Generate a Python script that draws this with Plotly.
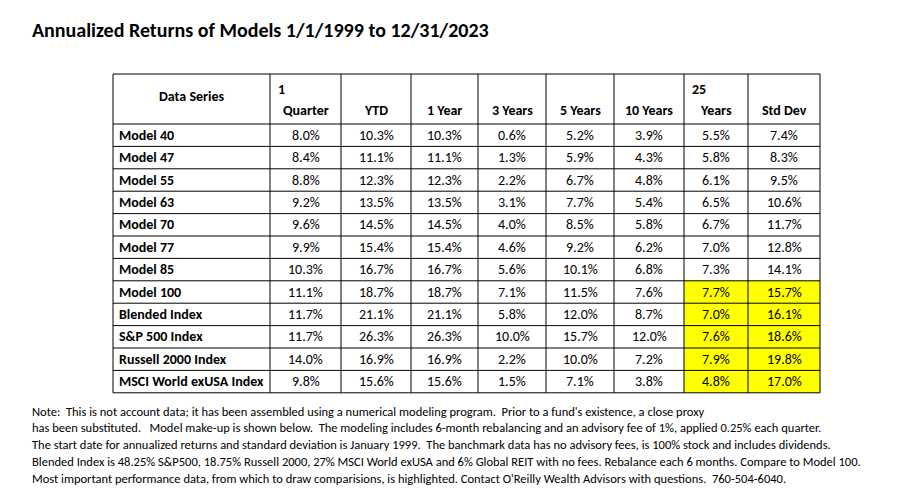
import plotly.graph_objects as go

series = ["Model 40","Model 47","Model 55","Model 63","Model 70","Model 77","Model 85","Model 100",
          "Blended Index","S&P 500 Index","Russell 2000 Index","MSCI World exUSA Index"]
q1   = ["8.0%","8.4%","8.8%","9.2%","9.6%","9.9%","10.3%","11.1%","11.7%","11.7%","14.0%","9.8%"]
ytd  = ["10.3%","11.1%","12.3%","13.5%","14.5%","15.4%","16.7%","18.7%","21.1%","26.3%","16.9%","15.6%"]
y1   = ["10.3%","11.1%","12.3%","13.5%","14.5%","15.4%","16.7%","18.7%","21.1%","26.3%","16.9%","15.6%"]
y3   = ["0.6%","1.3%","2.2%","3.1%","4.0%","4.6%","5.6%","7.1%","5.8%","10.0%","2.2%","1.5%"]
y5   = ["5.2%","5.9%","6.7%","7.7%","8.5%","9.2%","10.1%","11.5%","12.0%","15.7%","10.0%","7.1%"]
y10  = ["3.9%","4.3%","4.8%","5.4%","5.8%","6.2%","6.8%","7.6%","8.7%","12.0%","7.2%","3.8%"]
y25  = ["5.5%","5.8%","6.1%","6.5%","6.7%","7.0%","7.3%","7.7%","7.0%","7.6%","7.9%","4.8%"]
sd   = ["7.4%","8.3%","9.5%","10.6%","11.7%","12.8%","14.1%","15.7%","16.1%","18.6%","19.8%","17.0%"]
header_top = ["", "1", "", "", "", "", "", "25", ""]
header_bot = ["Data Series", "Quarter", "YTD", "1 Year", "3 Years", "5 Years", "10 Years", "Years", "Std Dev"]
highlight_from = 7
highlight_cols = [7, 8]

font = "Carlito, Calibri, Lato, sans-serif"
W, H = 922, 492
edges = [105, 262, 333, 403, 470, 538, 606, 676, 740, 812]
top, head_h, row_h = 66, 50, 22.4
columns = [series, q1, ytd, y1, y3, y5, y10, y25, sd]
n = len(series)

fig = go.Figure()
fig.update_xaxes(range=[0, W], visible=False, fixedrange=True)
fig.update_yaxes(range=[H, 0], visible=False, fixedrange=True)

def px(x, y):
    return x, y

# highlight fills
for c in highlight_cols:
    for r in range(highlight_from, n):
        y0 = top + head_h + r*row_h
        fig.add_shape(type="rect", x0=edges[c], x1=edges[c+1], y0=y0, y1=y0+row_h,
                      fillcolor="#FFFF00", line=dict(width=0), layer="below")

bottom = top + head_h + n*row_h
for x in edges:
    fig.add_shape(type="line", x0=x, x1=x, y0=top, y1=bottom, line=dict(color="black", width=1))
for y in [top] + [top + head_h + r*row_h for r in range(n+1)]:
    fig.add_shape(type="line", x0=edges[0], x1=edges[-1], y0=y, y1=y, line=dict(color="black", width=1))

# header
for c in range(9):
    cx = (edges[c] + edges[c+1]) / 2
    if c == 0:
        fig.add_annotation(x=cx, y=88, text="<b>Data Series</b>", showarrow=False,
                           font=dict(family=font, size=14, color="black"))
        continue
    fig.add_annotation(x=cx, y=102, text="<b>%s</b>" % header_bot[c], showarrow=False,
                       font=dict(family=font, size=14, color="black"))
    if header_top[c]:
        fig.add_annotation(x=edges[c] + 6, y=81, text="<b>%s</b>" % header_top[c], showarrow=False,
                           xanchor="left", font=dict(family=font, size=14, color="black"))

for c in range(9):
    for r in range(n):
        yc = top + head_h + (r + 0.5)*row_h
        if c == 0:
            fig.add_annotation(x=edges[0] + 4, y=yc, text="<b>%s</b>" % columns[0][r], showarrow=False,
                               xanchor="left", font=dict(family=font, size=14, color="black"))
        else:
            fig.add_annotation(x=(edges[c] + edges[c+1]) / 2, y=yc, text=columns[c][r], showarrow=False,
                               font=dict(family=font, size=14, color="black"))

notes = ["Note:  This is not account data; it has been assembled using a numerical modeling program.  Prior to a fund's existence, a close proxy",
         "has been substituted.   Model make-up is shown below.  The modeling includes 6-month rebalancing and an advisory fee of 1%, applied 0.25% each quarter.",
         "The start date for annualized returns and standard deviation is January 1999.  The banchmark data has no advisory fees, is 100% stock and includes dividends.",
         "Blended Index is 48.25% S&P500, 18.75% Russell 2000, 27% MSCI World exUSA and 6% Global REIT with no fees. Rebalance each 6 months. Compare to Model 100.",
         "Most important performance data, from which to draw comparisions, is highlighted. Contact O'Reilly Wealth Advisors with questions.  760-504-6040."]
for i, t in enumerate(notes):
    fig.add_annotation(text=t, x=22, y=403 + i*16.8, xanchor="left", showarrow=False,
                       font=dict(family=font, size=12.5, color="black"))

fig.add_annotation(text="<b>Annualized Returns of Models 1/1/1999 to 12/31/2023</b>", x=22, y=22,
                   xanchor="left", showarrow=False, font=dict(family=font, size=20, color="black"))

fig.update_layout(width=W, height=H, margin=dict(l=0, r=0, t=0, b=0),
                  paper_bgcolor="white", plot_bgcolor="white", showlegend=False)
fig.write_html("out.html", config={"displayModeBar": False})
